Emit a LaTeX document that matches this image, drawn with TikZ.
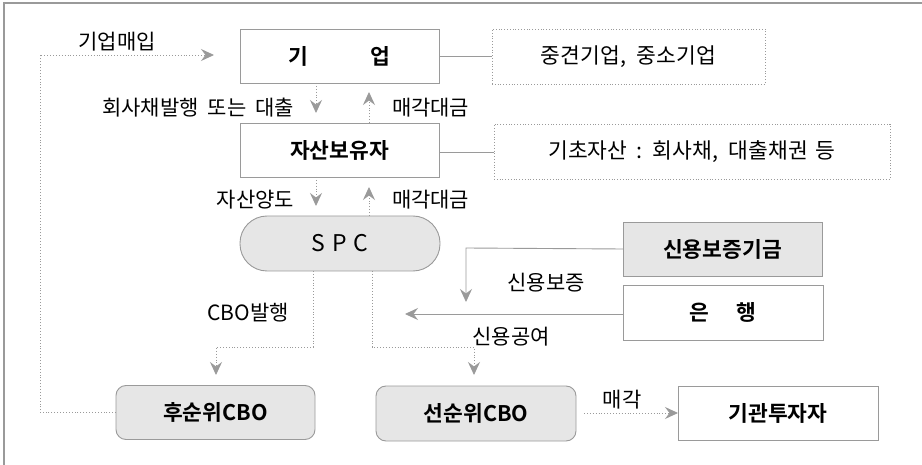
\documentclass[tikz,border=0pt]{standalone}
\usepackage{fontspec}
\setmainfont{Noto Sans CJK KR}
\newfontfamily\krb{Noto Sans CJK KR Bold}
\usetikzlibrary{arrows.meta,calc}
\definecolor{lg}{HTML}{9A9A9A}
\definecolor{fillg}{HTML}{E6E6E6}
\begin{document}
\begin{tikzpicture}[x=1pt,y=-1pt,
  every node/.style={inner sep=0pt,outer sep=0pt},
  boxw/.style={draw=lg,line width=0.9pt,minimum width=199pt,minimum height=54pt,font=\krb\fontsize{21.5}{22}\selectfont},
  boxg/.style={boxw,fill=fillg},
  roundg/.style={boxw,fill=fillg,rounded corners=10pt},
  infobox/.style={draw=lg,dotted,line width=0.8pt,minimum height=55pt,font=\fontsize{21.5}{22}\selectfont},
  lbl/.style={font=\fontsize{21}{22}\selectfont},
  dline/.style={draw=lg,dotted,line width=0.9pt},
  sline/.style={draw=lg,line width=0.9pt},
  tip/.style={-{Stealth[length=13pt,width=12pt,inset=4.5pt,fill=lg]}},
]
\useasboundingbox (0,0) rectangle (922,465);
% frame
\draw[lg,line width=1.5pt] (4,465) -- (4,3) -- (922,3);

% nodes
\node[boxw] (firm) at (339.5,56) {기\hspace{63pt}업};
\node[boxw] (holder) at (339.5,150) {자산보유자};
\node[draw=lg,line width=0.9pt,fill=fillg,minimum width=200pt,minimum height=55pt,rounded corners=27pt,font=\fontsize{23}{24}\selectfont] (spc) at (340,243.5) {S\hspace{7pt}P\hspace{7pt}C};
\node[infobox,minimum width=273pt] (info1) at (628.5,56.5) {중견기업,\hspace{6pt} 중소기업};
\node[infobox,minimum width=396pt] (info2) at (692,151.5) {기초자산\hspace{4pt} :\hspace{4pt} 회사채,\hspace{6pt} 대출채권\hspace{3pt} 등};
\node[boxg] (kodit) at (722.5,249) {신용보증기금};
\node[boxw,minimum width=200pt,minimum height=55pt] (bank) at (723,312.5) {은\hspace{27pt}행};
\node[roundg] (sub) at (215.5,412.5) {후순위CBO};
\node[roundg,minimum width=200pt,minimum height=55pt] (senior) at (476,413.5) {선순위CBO};
\node[boxw,minimum width=200pt] (inst) at (778,413) {기관투자자};

% coordinates
\coordinate (fa) at (316,83);
\coordinate (ha) at (316,177);
\coordinate (sa) at (313,271);
\coordinate (sb) at (372,271);
\coordinate (buy) at (214,55);
\coordinate (kt) at (466,302);
\coordinate (bt) at (405,314);

% info connectors
\draw[sline] (firm.east) -- (firm.east -| info1.west);
\draw[sline] ($(holder.east)+(0,2)$) -- ($(holder.east -| info2.west)+(0,2)$);

% firm <-> holder
\draw[dline,tip] (fa) -- (316,113);
\draw[dline,tip] (369,123) -- (369,92);
\node[lbl,anchor=east] (l1) at (294,108) {회사채발행\hspace{9pt}또는\hspace{9pt}대출};
\node[lbl,anchor=west] (l2) at (392,108) {매각대금};

% holder <-> spc
\draw[dline,tip] (ha) -- (316,206);
\draw[dline,tip] (369,216) -- (369,187);
\node[lbl,anchor=east] (l3) at (294,200) {자산양도};
\node[lbl,anchor=west] (l4) at (392,200) {매각대금};

% spc -> sub / senior
\draw[dline,tip] (sa) -- (313,347) -- (216,347) -- (216,375);
\draw[dline,tip] (sb) -- (372,347) -- (474,347) -- (474,375);
\node[lbl] (l5) at (248,313) {CBO발행};

% kodit / bank
\draw[sline,tip] (kodit.west) -- (466,248) -- (kt);
\draw[sline,tip] (bank.west |- bt) -- (bt);
\node[lbl] (l6) at (546,283) {신용보증};
\node[lbl] (l7) at (511,337) {신용공여};

% senior -> inst
\draw[dline,tip] (584,413) -- (inst.west);
\node[lbl] (l8) at (622,400) {매각};

% 기업매입
\draw[dline,tip] (sub.west) -- (40,412.5) -- (40,55) -- (buy);
\node[lbl] (l9) at (117,42) {기업매입};
\end{tikzpicture}
\end{document}
